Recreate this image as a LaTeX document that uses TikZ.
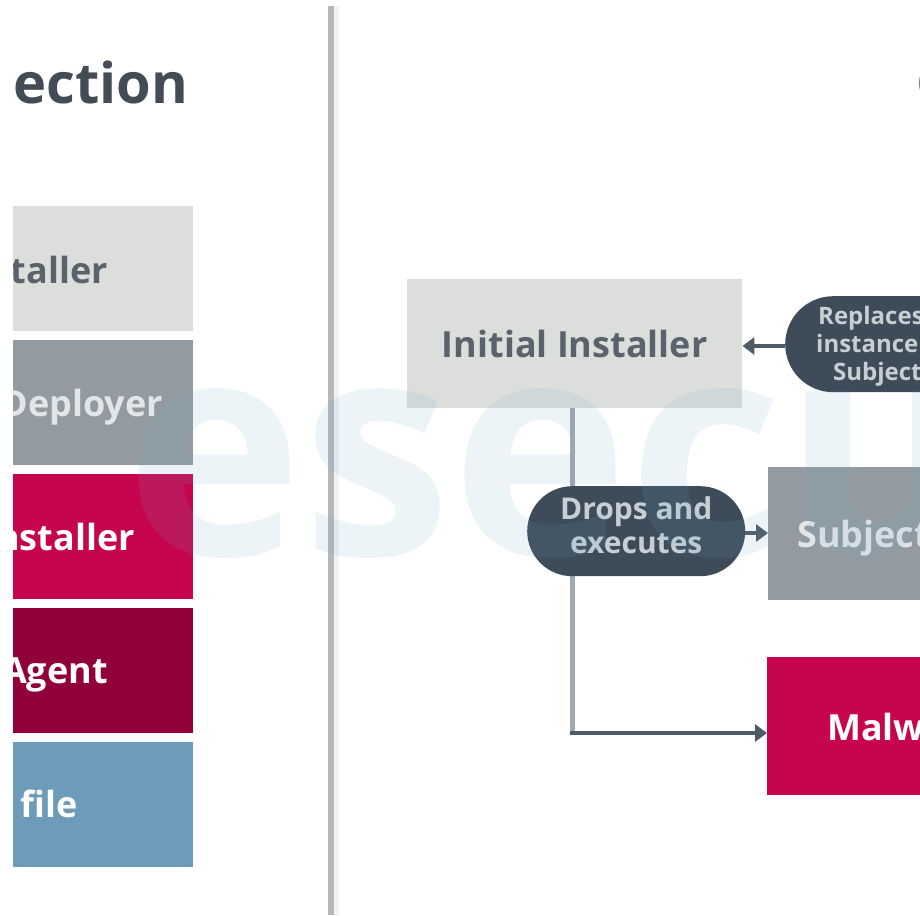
\documentclass[tikz,border=0pt]{standalone}
\usepackage{fontspec}
\setmainfont{Open Sans}
\usetikzlibrary{arrows.meta}
\definecolor{cLight}{HTML}{DCDEDB}
\definecolor{cGray}{HTML}{939BA1}
\definecolor{cPink}{HTML}{C7054F}
\definecolor{cWine}{HTML}{91003A}
\definecolor{cBlue}{HTML}{6D9BBA}
\definecolor{cPill}{HTML}{3E4C59}
\definecolor{cPillTxt}{HTML}{C8CFD4}
\definecolor{cDarkTxt}{HTML}{5A636B}
\definecolor{cGrayTxt}{HTML}{E2E6E9}
\definecolor{cTitle}{HTML}{434C55}
\definecolor{cDiv}{HTML}{B3B8BD}
\definecolor{cDivLight}{HTML}{F2F2F2}
\definecolor{cArrow}{HTML}{4E5A64}
\definecolor{cVline}{HTML}{A1A8AE}
\definecolor{cMark}{HTML}{6AA6CC}
\pgfdeclarelayer{bg}
\pgfdeclarelayer{fg}
\pgfsetlayers{bg,main,fg}
\begin{document}
\begin{tikzpicture}[x=1pt,y=-1pt,
  box/.style={draw=none, inner sep=0pt, anchor=north west},
  lbl/.style={font=\bfseries\fontsize{36}{40}\selectfont, inner sep=0pt},
  pill/.style={fill=cPill, inner sep=0pt, anchor=north west},
  ptxt/.style={font=\bfseries\fontsize{30}{34}\selectfont, text=cPillTxt, inner sep=0pt},
  rtxt/.style={font=\bfseries\fontsize{24}{28}\selectfont, text=cPillTxt, inner sep=0pt, anchor=base west},
  conn/.style={line width=4pt, draw=cArrow, -{Triangle[length=12pt,width=17pt]}},
  ttl/.style={font=\bfseries\fontsize{56}{62}\selectfont, text=cTitle, inner sep=0pt, anchor=base west},
]
\useasboundingbox (0,0) rectangle (920,915);
\begin{pgfonlayer}{bg}
\fill[white] (0,0) rectangle (920,915);
\end{pgfonlayer}
\begin{scope}
\clip (13,0) rectangle (920,915);
% titles
\node[ttl] (title1) at (13,103) {ection};
\node[ttl] (title2) at (916,103) {C};
% divider
\draw[line width=6pt, draw=cDiv] (331,6) coordinate (d1) -- (331,915) coordinate (d2);
\draw[line width=5pt, draw=cDivLight] (336.5,6) coordinate (d3) -- (336.5,915) coordinate (d4);
% legend boxes
\node[box, fill=cLight, minimum width=180, minimum height=125] (l1) at (13,206) {};
\node[box, fill=cGray,  minimum width=180, minimum height=125] (l2) at (13,340) {};
\node[box, fill=cPink,  minimum width=180, minimum height=125] (l3) at (13,474) {};
\node[box, fill=cWine,  minimum width=180, minimum height=125] (l4) at (13,608) {};
\node[box, fill=cBlue,  minimum width=180, minimum height=125] (l5) at (13,742) {};
\node[lbl, text=cDarkTxt, anchor=base east] (lt1) at (108,283) {Installer};
\node[lbl, text=cGrayTxt, anchor=base east] (lt2) at (163,416) {Deployer};
\node[lbl, text=white, anchor=base east] (lt3) at (135,550) {Installer};
\node[lbl, text=white, anchor=base east] (lt4) at (108,683) {Agent};
\node[lbl, text=white, anchor=base east] (lt5) at (78,817) {file};
% right panel boxes
\node[box, fill=cLight, minimum width=335, minimum height=129] (ii) at (407,279) {};
\node[lbl, text=cDarkTxt, anchor=base] (iit) at (ii.center |- 0,357) {Initial Installer};
\node[box, fill=cGray, minimum width=200, minimum height=133] (subj) at (768,467) {};
\node[lbl, text=cGrayTxt, anchor=base west] (subjt) at (797,547) {Subject};
\node[box, fill=cPink, minimum width=200, minimum height=138] (mal) at (767,657) {};
\node[lbl, text=white, anchor=base west] (malt) at (827,740) {Malware};
% pills
\node[pill, rounded corners=48pt, minimum width=260, minimum height=96] (rep) at (785,296) {};
\node[rtxt] (rep1) at (818,324) {Replaces};
\node[rtxt] (rep2) at (816,352) {instance};
\node[rtxt] (rep3) at (833,380) {Subject};
\node[pill, rounded corners=45pt, minimum width=218, minimum height=90] (drops) at (527,486) {};
\node[ptxt, anchor=base] (dr1) at (drops.center |- 0,519) {Drops and};
\node[ptxt, anchor=base] (dr2) at (drops.center |- 0,553) {executes};
% connectors
\coordinate (bend) at (572,733);
\begin{pgfonlayer}{bg}
\draw[line width=5pt, draw=cVline] (ii.south -| bend) -- (bend);
\end{pgfonlayer}
\draw[conn] ([xshift=-2pt]bend) -- (bend -| mal.west);
\draw[conn] (rep.west |- 0,346) -- (ii.east |- 0,346);
\draw[conn] (drops.east |- 0,533) -- (subj.west |- 0,533);
% watermark
\begin{pgfonlayer}{fg}
\node[font=\bfseries\fontsize{300}{300}\selectfont, text=cMark, text opacity=0.12, inner sep=0pt, anchor=base west] (mark) at (125,555) {esecu};
\end{pgfonlayer}
\end{scope}
\end{tikzpicture}
\end{document}
